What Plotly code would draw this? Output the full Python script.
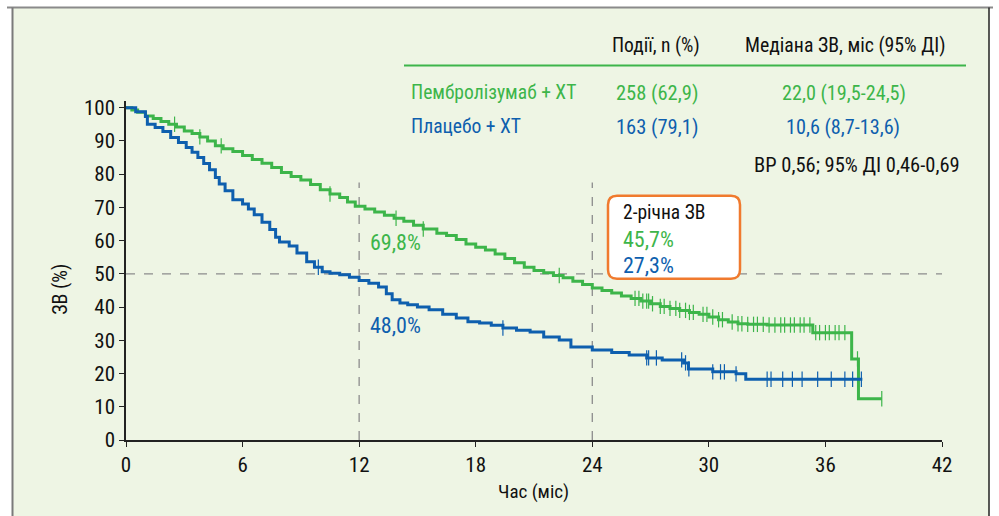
import numpy as np
import plotly.graph_objects as go

# ---------------- data ----------------
pembro_t = [0, 0.3, 0.6, 1.0, 1.4, 1.8, 2.2, 2.6, 3.0, 3.4, 3.8, 4.2, 4.6, 5.0, 5.5, 6.0, 6.5, 7.0, 7.5,
            8.0, 8.5, 9.0, 9.5, 10.0, 10.5, 11.0, 11.4, 11.8, 12.3, 12.8, 13.3, 13.8, 14.3, 14.8, 15.3,
            16.0, 16.5, 17.0, 17.5, 18.0, 18.5, 19.0, 19.5, 20.0, 20.5, 21.0, 21.5, 22.0, 22.5, 23.0,
            23.5, 24.0, 24.5, 25.0, 25.5, 26.0, 26.5, 27.0, 27.5, 28.0, 28.5, 29.0, 29.5, 30.0, 30.5,
            31.0, 31.5, 32.0, 33.0, 35.35, 37.35, 37.7, 38.9]
pembro_s = [100, 99.3, 98.6, 97.5, 96.7, 95.8, 95.0, 94.2, 93.0, 92.2, 91.2, 90.0, 88.5, 87.6, 86.8,
            85.6, 84.4, 83.3, 82.0, 80.5, 79.3, 78.2, 76.9, 75.3, 74.0, 73.0, 71.6, 70.3, 69.5, 68.6,
            67.6, 66.7, 65.8, 64.6, 63.5, 62.2, 61.5, 60.3, 59.0, 58.0, 57.2, 56.0, 54.6, 53.3, 52.0,
            51.0, 50.3, 49.5, 48.8, 47.8, 46.8, 45.7, 45.0, 44.2, 43.3, 42.6, 41.8, 41.0, 40.2, 39.6,
            39.0, 38.4, 37.8, 37.0, 36.2, 35.5, 35.0, 34.8, 34.6, 32.3, 24.4, 12.4, 12.4]

placebo_t = [0, 0.5, 1.0, 1.1, 1.5, 1.9, 2.3, 2.7, 3.1, 3.4, 3.7, 4.0, 4.3, 4.6, 4.8, 5.1, 5.5, 6.0,
             6.3, 6.6, 7.0, 7.4, 7.7, 7.9, 8.4, 8.8, 9.3, 9.7, 10.1, 10.5, 11.0, 11.5, 12.0, 12.5,
             13.0, 13.4, 13.7, 14.1, 14.5, 15.0, 15.6, 16.3, 17.0, 17.6, 18.2, 18.8, 19.4, 20.1,
             20.8, 21.5, 22.3, 22.9, 24.0, 25.0, 25.9, 26.8, 27.6, 28.7, 28.95, 30.2, 31.4, 31.9, 37.9]
placebo_s = [100, 98.8, 97.3, 95.0, 94.0, 92.8, 91.0, 89.5, 88.0, 86.6, 85.0, 83.2, 81.3, 79.0, 77.0,
             75.0, 72.3, 71.0, 69.5, 67.8, 65.5, 63.3, 61.0, 59.6, 58.4, 56.3, 53.6, 52.0, 50.6, 50.2,
             49.7, 49.0, 48.0, 47.2, 46.0, 44.0, 42.2, 41.2, 40.7, 40.0, 39.2, 37.8, 36.7, 35.6, 35.2,
             34.5, 33.7, 33.0, 32.5, 31.0, 30.1, 28.0, 27.1, 26.3, 25.6, 24.7, 24.1, 23.2, 21.4, 20.5,
             19.9, 18.3, 18.3]

pembro_censor_t = [2.5, 3.8, 4.9, 10.5, 13.9, 15.3, 22.3, 26.2, 26.4, 26.6, 26.8, 26.9, 27.1, 27.5,
                   27.7, 28.0, 28.3, 28.5, 28.8, 29.0, 29.2, 29.7, 29.9, 30.2, 30.5, 30.7, 31.2, 31.5,
                   31.7, 32.0, 32.3, 32.5, 32.8, 33.1, 33.4, 33.7, 33.9, 34.2, 34.4, 34.7, 34.9, 35.2,
                   35.5, 35.7, 36.0, 36.2, 36.5, 36.7, 37.0, 37.65, 38.9]
placebo_censor_t = [9.9, 19.4, 26.8, 26.9, 27.3, 28.6, 28.8, 28.97, 30.2, 30.6, 30.8, 31.4, 33.0, 33.2,
                    33.8, 34.3, 34.8, 35.6, 36.3, 37.0, 37.4, 37.85]

x_ticks = [0, 6, 12, 18, 24, 30, 36, 42]
y_ticks = [0, 10, 20, 30, 40, 50, 60, 70, 80, 90, 100]

names = ["Пембролізумаб + ХТ", "Плацебо + ХТ"]
events = ["258 (62,9)", "163 (79,1)"]
medians = ["22,0 (19,5-24,5)", "10,6 (8,7-13,6)"]
landmark_12 = ["69,8%", "48,0%"]
landmark_24 = ["45,7%", "27,3%"]
hr_text = "ВР 0,56; 95% ДІ 0,46-0,69"

GREEN = "#3db54a"
BLUE = "#0e5fae"
ORANGE = "#f07a2e"
BG = "#eef5e4"
FONT = "Liberation Sans Narrow, Roboto Condensed, Liberation Sans, sans-serif"


def step_at(ts, ss, t):
    i = np.searchsorted(np.asarray(ts), t, side="right") - 1
    return np.asarray(ss)[i]


fig = go.Figure()
for ts, ss, ct, col in [(pembro_t, pembro_s, pembro_censor_t, GREEN),
                        (placebo_t, placebo_s, placebo_censor_t, BLUE)]:
    fig.add_trace(go.Scatter(x=ts, y=ss, mode="lines", line=dict(color=col, width=3, shape="hv"),
                             showlegend=False, hoverinfo="skip"))
    fig.add_trace(go.Scatter(x=ct, y=[step_at(ts, ss, t) for t in ct], mode="markers",
                             marker=dict(symbol="line-ns", size=11, line=dict(color=col, width=1.2)),
                             showlegend=False, hoverinfo="skip", cliponaxis=False))

# plot area in pixels
L, R, T, B = 126, 942, 101.4, 440


def px(x):
    return (x - L) / (R - L)


def py(y):
    return (B - y) / (B - T)


shapes = []
# panel background and frame
shapes.append(dict(type="rect", xref="paper", yref="paper", x0=px(12), x1=px(989), y0=py(530), y1=py(8),
                   fillcolor=BG, line=dict(width=0), layer="below"))
shapes.append(dict(type="line", xref="paper", yref="paper", x0=px(7), x1=px(993), y0=py(8), y1=py(8),
                   line=dict(color="#8a8a8a", width=2)))
shapes.append(dict(type="line", xref="paper", yref="paper", x0=px(12.5), x1=px(12.5), y0=py(8), y1=py(530),
                   line=dict(color="#7a7a7a", width=2)))
shapes.append(dict(type="line", xref="paper", yref="paper", x0=px(989), x1=px(989), y0=py(8), y1=py(530),
                   line=dict(color="#222222", width=1.5)))
# reference dashed lines
shapes.append(dict(type="line", xref="x", yref="y", x0=0, x1=42, y0=50, y1=50,
                   line=dict(color="#8c8c8c", width=1.3, dash="dash"), layer="below"))
for xv in [12, 24]:
    shapes.append(dict(type="line", xref="x", yref="y", x0=xv, x1=xv, y0=0, y1=77.5,
                       line=dict(color="#8c8c8c", width=1.3, dash="dash"), layer="below"))
# table rule
shapes.append(dict(type="line", xref="paper", yref="paper", x0=px(404), x1=px(966), y0=py(66), y1=py(66),
                   line=dict(color=GREEN, width=2)))
# rounded box
bx0, bx1, by0, by1, r = 608, 740, 196, 279, 9
path = (f"M {px(bx0 + r)},{py(by0)} L {px(bx1 - r)},{py(by0)} Q {px(bx1)},{py(by0)} {px(bx1)},{py(by0 + r)} "
        f"L {px(bx1)},{py(by1 - r)} Q {px(bx1)},{py(by1)} {px(bx1 - r)},{py(by1)} "
        f"L {px(bx0 + r)},{py(by1)} Q {px(bx0)},{py(by1)} {px(bx0)},{py(by1 - r)} "
        f"L {px(bx0)},{py(by0 + r)} Q {px(bx0)},{py(by0)} {px(bx0 + r)},{py(by0)} Z")
shapes.append(dict(type="path", xref="paper", yref="paper", path=path, fillcolor="white",
                   line=dict(color=ORANGE, width=2.5)))

ann = []


def A(text, x, y, color="#111111", size=18, xanchor="center", angle=0):
    ann.append(dict(text=text, x=px(x), y=py(y), xref="paper", yref="paper", showarrow=False,
                    xanchor=xanchor, yanchor="middle", textangle=angle,
                    font=dict(family=FONT, size=size, color=color)))


A("Події, n (%)", 656, 46, size=19.5)
A("Медіана ЗВ, міс (95% ДІ)", 845, 46, size=19.8)
A(names[0], 409, 93, GREEN, 19.6, "left")
A(names[1], 409, 127, BLUE, 19.6, "left")
A(events[0], 657, 93, GREEN, 20.5)
A(events[1], 657, 127, BLUE, 20.5)
A(medians[0], 844, 93, GREEN, 20.2)
A(medians[1], 843, 127, BLUE, 20.2)
A(hr_text, 962, 165, "#111111", 20.5, "right")
A(landmark_12[0], 395, 243, GREEN, 22)
A(landmark_12[1], 395, 326, BLUE, 22)
A("2-річна ЗВ", 621, 213, "#111111", 19.5, "left")
A(landmark_24[0], 621, 240, GREEN, 22, "left")
A(landmark_24[1], 621, 266, BLUE, 22, "left")
A("ЗВ (%)", 60, 290, "#111111", 20, angle=-90)
A("Час (міс)", 533, 491, "#111111", 19)

fig.update_layout(
    width=999, height=516,
    margin=dict(l=L, r=999 - R, t=T, b=516 - B, pad=0),
    paper_bgcolor="white", plot_bgcolor=BG,
    shapes=shapes, annotations=ann,
    font=dict(family=FONT, color="#111111"),
    xaxis=dict(range=[0, 42], tickvals=x_ticks, ticktext=[str(v) for v in x_ticks], showgrid=False,
               zeroline=False, showline=True, linecolor="#222222", linewidth=1.5, ticks="outside",
               ticklen=5, tickcolor="#222222", tickfont=dict(size=21, family=FONT, color="#111111")),
    yaxis=dict(range=[0, 102], tickvals=y_ticks, ticktext=[str(v) for v in y_ticks], showgrid=False,
               zeroline=False, showline=True, linecolor="#222222", linewidth=1.5, ticks="outside",
               ticklen=5, tickcolor="#222222", tickfont=dict(size=21, family=FONT, color="#111111")),
)

fig.write_html("out.html", config={"displayModeBar": False},
               post_script="document.body.style.margin='0px';document.body.style.overflow='hidden';")
